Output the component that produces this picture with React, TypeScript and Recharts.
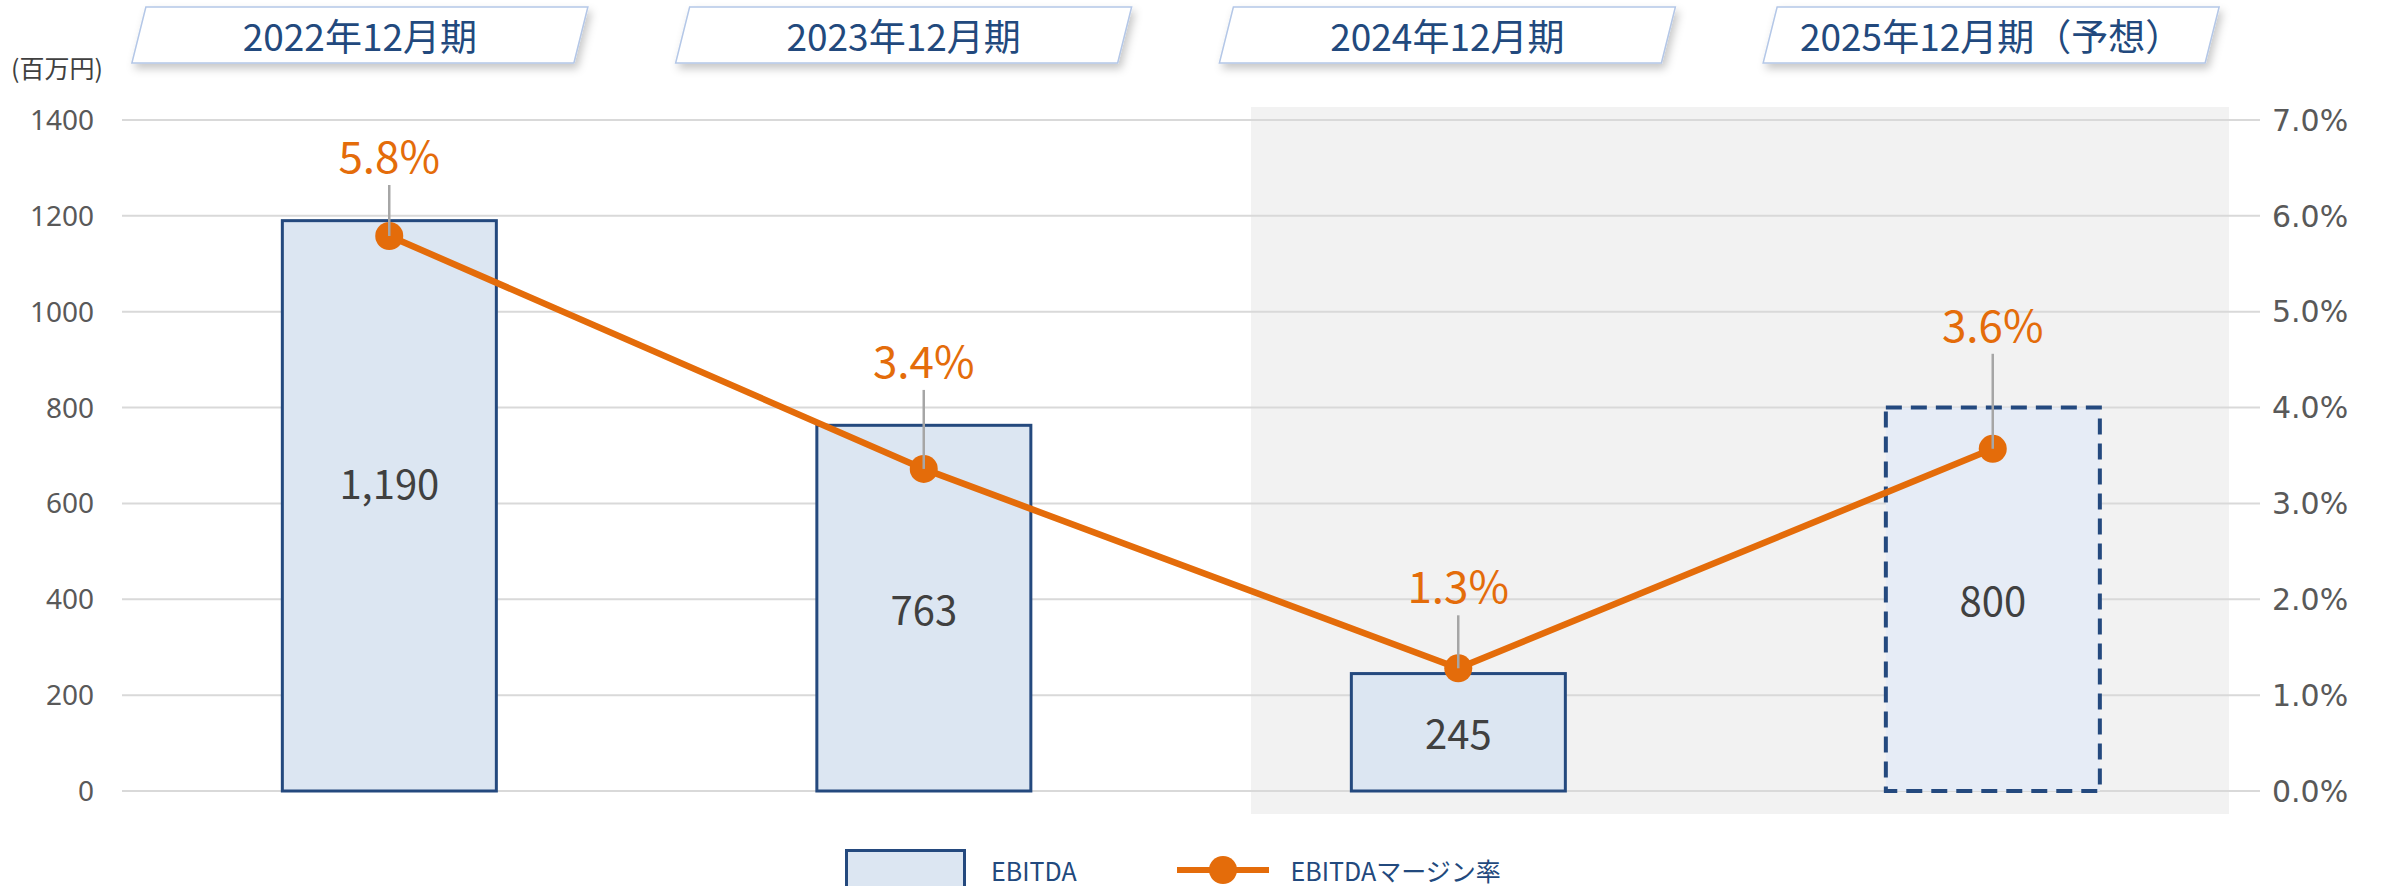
import React from 'react';
import { ComposedChart, Bar, Line, XAxis, YAxis, CartesianGrid, Legend, LabelList } from 'recharts';

const periods = ['2022年12月期', '2023年12月期', '2024年12月期', '2025年12月期（予想）'];
const ebitda = [1190, 763, 245, 800];
const marginRate = [5.79, 3.36, 1.28, 3.57];
const isForecast = [false, false, false, true];
const leftTicks = [0, 200, 400, 600, 800, 1000, 1200, 1400];
const rightTicks = [0, 1, 2, 3, 4, 5, 6, 7];
const unitLabel = '(百万円)';
const barName = 'EBITDA';
const lineName = 'EBITDAマージン率';

const data = periods.map((p, i) => ({ period: p, ebitda: ebitda[i], margin: marginRate[i] }));

// label placement styling (as placed in the original)
const marginLabelLift = [82, 110, 84, 126];
const barLabelDy = [-24, 0, 0, 0];

const NAVY = '#24497E';
const ORANGE = '#E46C0A';
const BAR_FILL = '#DCE6F2';
const BAR_FILL_FC = '#E6ECF6';
const CJK = "'Noto Sans CJK JP', 'Noto Sans', sans-serif";
const SANS = "'Noto Sans', 'Noto Sans CJK JP', sans-serif";

const HeaderTick = (props: any) => {
  const { x, payload, index } = props;
  const hw = 221, sk = 7, top = 7, bot = 63;
  const pts = `${x - hw + sk},${top} ${x + hw + sk},${top} ${x + hw - sk},${bot} ${x - hw - sk},${bot}`;
  const fid = `hdrShadow${index}`;
  return (
    <g>
      <defs>
        <filter id={fid} x="-10%" y="-30%" width="120%" height="180%">
          <feDropShadow dx="3" dy="5" stdDeviation="4" floodColor="#000" floodOpacity="0.22" />
        </filter>
      </defs>
      <polygon points={pts} fill="#fff" stroke="#B4C7E7" strokeWidth={1.5} filter={`url(#${fid})`} />
      <text x={x} y={(top + bot) / 2} textAnchor="middle" dominantBaseline="central" fontSize={37} fill="#22497D" fontFamily={CJK}>
        {payload.value}
      </text>
    </g>
  );
};

const BarShape = (props: any) => {
  const { x, y, width, height, index } = props;
  const fc = isForecast[index];
  return (
    <rect
      x={x}
      y={y}
      width={width}
      height={height}
      fill={fc ? BAR_FILL_FC : BAR_FILL}
      stroke={NAVY}
      strokeWidth={fc ? 4 : 3}
      strokeDasharray={fc ? '16 9' : undefined}
    />
  );
};

const BarValueLabel = (props: any) => {
  const { x, y, width, height, value, index } = props;
  return (
    <text
      x={x + width / 2}
      y={y + height / 2 + (barLabelDy[index] || 0)}
      textAnchor="middle"
      dominantBaseline="central"
      fontSize={40}
      fill="#404040"
      fontFamily={CJK}
    >
      {Number(value).toLocaleString('en-US')}
    </text>
  );
};

const MarginLabel = (props: any) => {
  const { x, y, value, index } = props;
  const lift = marginLabelLift[index] || 82;
  return (
    <g>
      <line x1={x} y1={y} x2={x} y2={y - lift + 31} stroke="#A6A6A6" strokeWidth={2.5} />
      <text x={x} y={y - lift} textAnchor="middle" dominantBaseline="central" fontSize={44} fill={ORANGE} fontFamily={CJK}>
        {Number(value).toFixed(1)}%
      </text>
    </g>
  );
};

const UnitLabel = (props: any) => {
  const vb = props.viewBox || { x: 0, y: 120 };
  return (
    <text x={vb.x + 57} y={vb.y - 53} textAnchor="middle" dominantBaseline="central" fontSize={25} fill="#404040" fontFamily={CJK}>
      {unitLabel}
    </text>
  );
};

const LegendContent = () => (
  <div style={{ display: 'flex', alignItems: 'center', height: 42, paddingLeft: 845, fontFamily: CJK, fontSize: 25, lineHeight: 1, color: '#22497D' }}>
    <div style={{ width: 121, height: 42, boxSizing: 'border-box', background: BAR_FILL, border: `3px solid ${NAVY}` }} />
    <span style={{ marginLeft: 25, lineHeight: 1 }}>{barName}</span>
    <svg width={92} height={42} style={{ marginLeft: 100 }}>
      <line x1={0} y1={21} x2={92} y2={21} stroke={ORANGE} strokeWidth={6} />
      <circle cx={46} cy={21} r={14} fill={ORANGE} />
    </svg>
    <span style={{ marginLeft: 22, lineHeight: 1 }}>{lineName}</span>
  </div>
);

export default function App() {
  return (
    <div style={{ position: 'fixed', left: 0, top: 0, width: 2386, height: 886, overflow: 'hidden', background: '#fff' }}>
      <div style={{ position: 'absolute', left: 1251, top: 107, width: 978, height: 707, background: '#F2F2F2' }} />
      <div style={{ position: 'absolute', left: 0, top: 0 }}>
        <ComposedChart width={2386} height={900} data={data} margin={{ top: 119, right: 0, left: 0, bottom: 67 }} barCategoryGap="30%">
          <CartesianGrid vertical={false} stroke="#D9D9D9" strokeWidth={2} yAxisId="left" />
          <XAxis dataKey="period" hide />
          <XAxis
            xAxisId="top"
            orientation="top"
            dataKey="period"
            height={1}
            axisLine={false}
            tickLine={false}
            interval={0}
            padding={{ left: -34, right: -3 }}
            tick={<HeaderTick />}
          />
          <YAxis
            yAxisId="left"
            width={122}
            domain={[0, 1400]}
            ticks={leftTicks}
            axisLine={false}
            tickLine={false}
            tickSize={0}
            tickMargin={28}
            tick={{ fill: '#595959', fontSize: 28, fontFamily: SANS }}
            label={<UnitLabel />}
          />
          <YAxis
            yAxisId="right"
            orientation="right"
            width={126}
            domain={[0, 7]}
            ticks={rightTicks}
            tickFormatter={(v: number) => v.toFixed(1) + '%'}
            axisLine={false}
            tickLine={false}
            tickSize={0}
            tickMargin={12}
            tick={{ fill: '#595959', fontSize: 30, fontFamily: "'DejaVu Sans', sans-serif" }}
          />
          <Legend verticalAlign="bottom" content={<LegendContent />} wrapperStyle={{ top: 849, left: 0, width: 2386 }} />
          <Bar yAxisId="left" dataKey="ebitda" name={barName} shape={<BarShape />} isAnimationActive={false}>
            <LabelList dataKey="ebitda" content={<BarValueLabel />} />
          </Bar>
          <Line
            yAxisId="right"
            dataKey="margin"
            name={lineName}
            stroke={ORANGE}
            strokeWidth={6.5}
            dot={{ r: 14, fill: ORANGE, stroke: ORANGE, strokeWidth: 0 }}
            activeDot={false}
            label={<MarginLabel />}
            isAnimationActive={false}
          />
        </ComposedChart>
      </div>
    </div>
  );
}
